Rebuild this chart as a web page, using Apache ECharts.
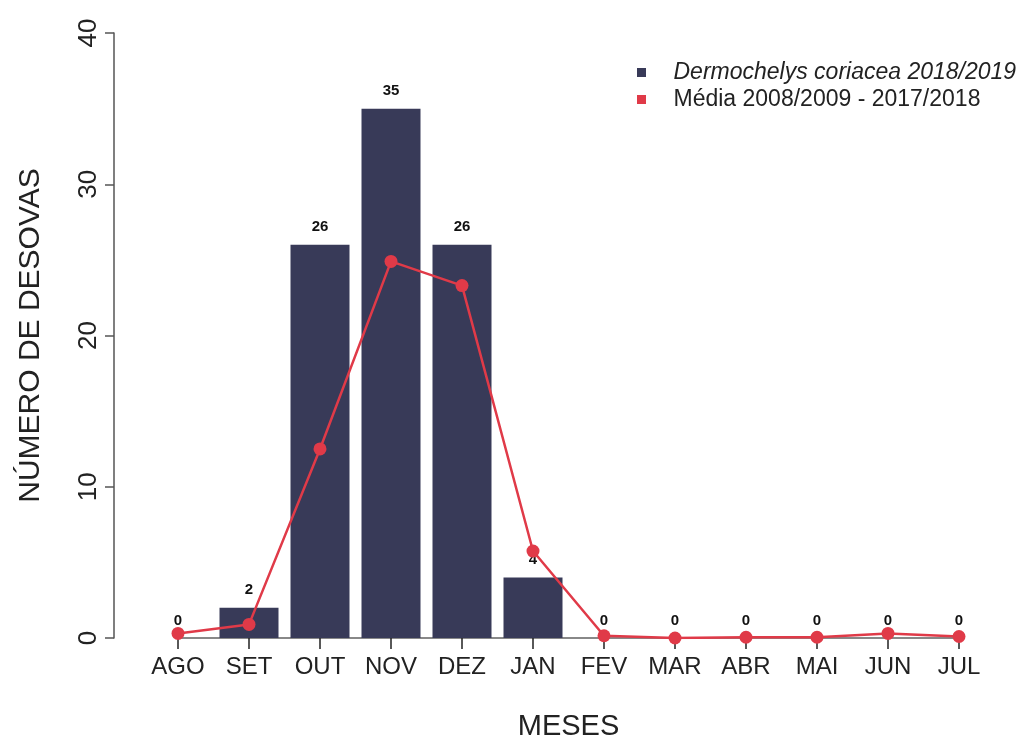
<!DOCTYPE html>
<html>
<head>
<meta charset="utf-8">
<script src="https://cdn.jsdelivr.net/npm/echarts@6/dist/echarts.min.js"></script>
<style>
html, body { margin: 0; padding: 0; background: #fff; }
#main { width: 1020px; height: 740px; }
</style>
</head>
<body>
<div id="main"></div>
<script>
// dados
var meses = ['AGO', 'SET', 'OUT', 'NOV', 'DEZ', 'JAN', 'FEV', 'MAR', 'ABR', 'MAI', 'JUN', 'JUL'];
var desovas = [0, 2, 26, 35, 26, 4, 0, 0, 0, 0, 0, 0];
var media = [0.3, 0.9, 12.5, 24.9, 23.3, 5.75, 0.15, 0, 0.05, 0.05, 0.3, 0.1];
var yTicks = [0, 10, 20, 30, 40];

var nomeBarra = 'Dermochelys coriacea 2018/2019';
var nomeLinha = 'Média 2008/2009 - 2017/2018';

var quadrado = 'path://M0,0L10,0L10,10L0,10Z';

var myChart = echarts.init(document.getElementById('main'));
myChart.setOption({
    animation: false,
    textStyle: { fontFamily: 'Liberation Sans, Arial, sans-serif' },
    grid: { left: 178, right: 61, top: 33, bottom: 102, outerBoundsMode: 'none', containLabel: false },
    legend: {
        orient: 'vertical',
        left: 632,
        top: 56,
        itemWidth: 54,
        itemHeight: 9,
        itemGap: 4,
        symbolKeepAspect: true,
        textStyle: { fontSize: 23, color: '#222' },
        data: [
            { name: nomeBarra, icon: quadrado, textStyle: { fontStyle: 'italic' } },
            { name: nomeLinha, icon: quadrado }
        ]
    },
    xAxis: {
        type: 'category',
        data: meses,
        boundaryGap: false,
        name: 'MESES',
        nameLocation: 'middle',
        nameGap: 74,
        nameTextStyle: { fontSize: 29, color: '#222' },
        axisLine: { lineStyle: { color: '#888', width: 2 } },
        axisTick: { alignWithLabel: true, length: 11, lineStyle: { color: '#222', width: 1.5 } },
        axisLabel: { fontSize: 24, color: '#222', margin: 17, interval: 0 },
        splitLine: { show: false }
    },
    yAxis: {
        type: 'value',
        min: 0,
        max: 40,
        interval: 10,
        offset: 64,
        name: 'NÚMERO DE DESOVAS',
        nameLocation: 'middle',
        nameGap: 68,
        nameTextStyle: { fontSize: 30, color: '#222' },
        axisLine: { show: true, lineStyle: { color: '#555', width: 1.5 } },
        axisTick: { show: true, length: 9, lineStyle: { color: '#555', width: 1.5 } },
        axisLabel: {
            fontSize: 26, color: '#222', rotate: 90, margin: 12,
            formatter: function (v) { return yTicks.indexOf(v) >= 0 ? String(v) : ''; }
        },
        splitLine: { show: false }
    },
    series: [
        {
            name: nomeBarra,
            type: 'bar',
            data: desovas,
            barWidth: 59,
            itemStyle: { color: '#383a58' },
            label: {
                show: true,
                position: 'top',
                distance: 10,
                fontSize: 15,
                fontWeight: 'bold',
                color: '#111'
            },
            z: 2
        },
        {
            name: nomeLinha,
            type: 'line',
            data: media,
            symbol: 'circle',
            symbolSize: 13,
            lineStyle: { color: '#e03a48', width: 2.5 },
            itemStyle: { color: '#e03a48' },
            z: 3
        }
    ]
});
</script>
</body>
</html>
